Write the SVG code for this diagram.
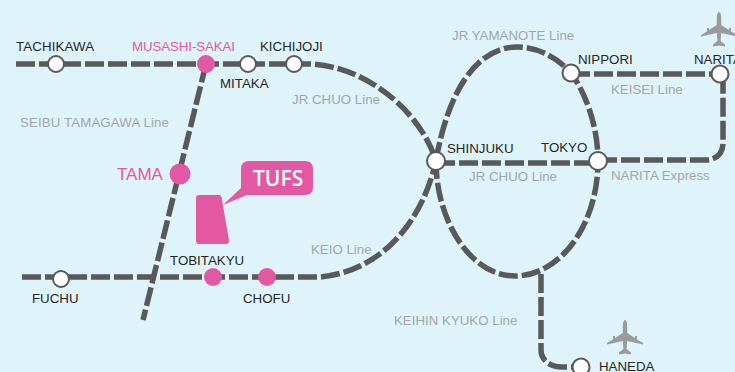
<svg xmlns="http://www.w3.org/2000/svg" width="735" height="372" viewBox="0 0 735 372">
<style>
.ln{fill:none;stroke:#595959;stroke-width:5.500;stroke-dasharray:19 4}
.st{fill:#fff;stroke:#595959;stroke-width:2}
.pk{fill:#e358a3}
text{font-family:"Liberation Sans",Arial,sans-serif;font-size:13.300px}
.n{fill:#262626}
.g{fill:#a3a6a9}
.p{fill:#e358a3}
.pl{fill:#9a9a9a}
</style>
<rect width="735" height="372" fill="#dff3fa"/>
<g id="connectors">
<path class="ln" d="M16 64H310C365 66 420 110 436 161"/>
<path class="ln" d="M206 64L143 320"/>
<path class="ln" d="M22 277H320C375 272 420 230 436 161"/>
<path class="ln" d="M436 161C447 95 475 47 517 47C540 47 560 60 571 73C585 92 598 125 598 161C598 225 560 276 515 276C470 276 436 220 436 161"/>
<path class="ln" d="M436 163H598"/>
<path class="ln" d="M571 74H721"/>
<path class="ln" d="M598 160H706C716 160 723 153 723 143V74"/>
<path class="ln" d="M541 274V350C541 360 550 367 562 367H582"/>
</g>
<g id="tachikawa"><circle class="st" cx="56" cy="64" r="8"/><text class="n" x="16" y="51" textLength="78">TACHIKAWA</text></g>
<g id="musashi-sakai"><circle class="pk" cx="206" cy="64" r="9"/><text class="p" x="132" y="51" textLength="103">MUSASHI-SAKAI</text></g>
<g id="mitaka"><circle class="st" cx="248" cy="64" r="8"/><text class="n" x="220" y="88">MITAKA</text></g>
<g id="kichijoji"><circle class="st" cx="294" cy="64" r="8"/><text class="n" x="260" y="51">KICHIJOJI</text></g>
<g id="tama"><circle class="pk" cx="180" cy="174" r="10.500"/><text class="p" x="117" y="180" style="font-size:17px">TAMA</text></g>
<g id="tufs">
<path class="pk" d="M199 195H219Q221 195 221.500 197L229 240Q229.500 244 226 244H199Q196 244 196 241V198Q196 195 199 195Z"/>
<path class="pk" d="M249 161H305Q313 161 313 169V187Q313 195 305 195H247L223 205L241 188V169Q241 161 249 161Z"/>
<text x="253" y="186" style="font-family:'Open Sans',sans-serif;font-size:21px;font-weight:600;fill:#fff">TUFS</text>
</g>
<g id="fuchu"><circle class="st" cx="61" cy="279" r="8"/><text class="n" x="32" y="303">FUCHU</text></g>
<g id="tobitakyu"><circle class="pk" cx="213" cy="277" r="9"/><text class="n" x="170" y="265">TOBITAKYU</text></g>
<g id="chofu"><circle class="pk" cx="267" cy="277" r="9"/><text class="n" x="243" y="303">CHOFU</text></g>
<g id="shinjuku"><circle class="st" cx="436" cy="161" r="9"/><text class="n" x="447" y="153">SHINJUKU</text></g>
<g id="tokyo"><circle class="st" cx="598" cy="161" r="9"/><text class="n" x="541" y="152">TOKYO</text></g>
<g id="nippori"><circle class="st" cx="571" cy="73" r="8.500"/><text class="n" x="578" y="64">NIPPORI</text></g>
<g id="narita"><circle class="st" cx="720" cy="74" r="8.500"/><text class="n" x="694" y="64">NARITA</text></g>
<g id="haneda"><circle class="st" cx="581" cy="367" r="8.500"/><text class="n" x="599" y="371">HANEDA</text></g>
<g id="labels">
<text class="g" x="20" y="127" textLength="149">SEIBU TAMAGAWA Line</text>
<text class="g" x="292" y="104">JR CHUO Line</text>
<text class="g" x="452" y="40">JR YAMANOTE Line</text>
<text class="g" x="611" y="94">KEISEI Line</text>
<text class="g" x="469" y="181">JR CHUO Line</text>
<text class="g" x="611" y="180">NARITA Express</text>
<text class="g" x="311" y="254">KEIO Line</text>
<text class="g" x="394" y="325">KEIHIN KYUKO Line</text>
</g>
<defs><path id="plane" d="M0 -18Q2 -18 2.200 -12V-5L10 0V-2H12V1.500L18 5V6.500L2.200 3L1.600 11L6 14.500V16.500L0 15.500L-6 16.500V14.500L-1.600 11L-2.200 3L-18 6.500V5L-12 1.500V-2H-10V0L-2.200 -5V-12Q-2 -18 0 -18Z"/></defs>
<g id="plane-narita"><use href="#plane" class="pl" x="719" y="30"/></g>
<g id="plane-haneda"><use href="#plane" class="pl" x="625" y="338"/></g>
</svg>
